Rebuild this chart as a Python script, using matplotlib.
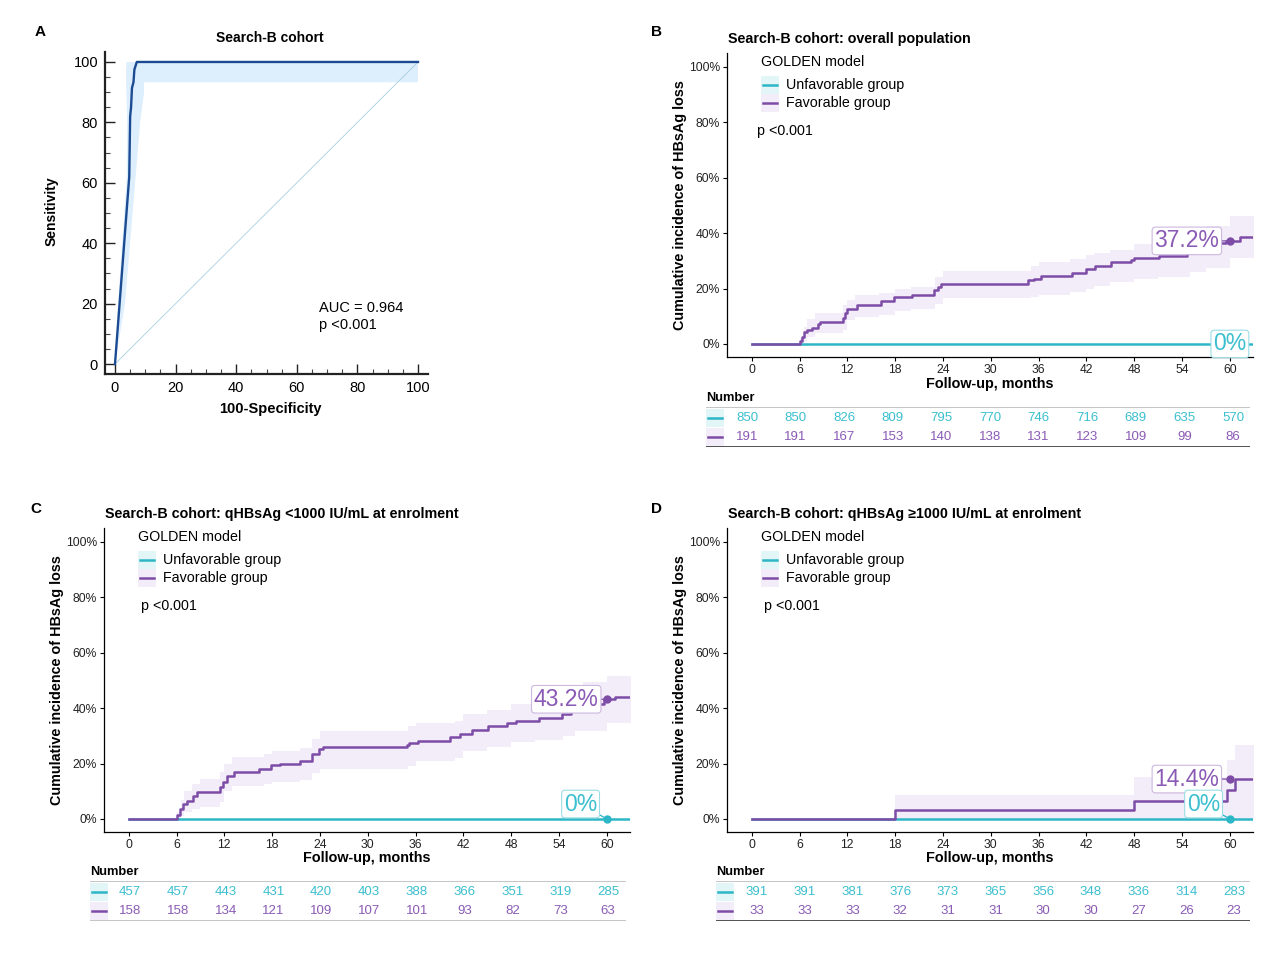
import matplotlib
matplotlib.use("Agg")
import matplotlib.pyplot as plt
from matplotlib.patches import Rectangle
from matplotlib.ticker import MultipleLocator

plt.rcParams['font.family'] = ['Liberation Sans', 'DejaVu Sans']

# ---------------- data ----------------
# Panel A: ROC
roc_fpr = [0, 4.7, 5.0, 5.3, 5.6, 6.1, 6.4, 7.2, 100]
roc_tpr = [0, 62, 82, 85, 91.4, 93.3, 97.5, 100, 100]
roc_ci_up_x = [0, 1.0, 3.9, 4.0, 3.6, 3.8, 100]
roc_ci_up_y = [0, 20, 62, 80, 97, 100, 100]
roc_ci_lo_x = [0, 3.3, 6.8, 8.3, 9.6, 9.6, 100]
roc_ci_lo_y = [0, 20, 62, 80, 90, 93.3, 93.3]
auc_text = "AUC = 0.964"
p_text = "p <0.001"

# KM panels (cumulative incidence, %)
time_ticks = [0, 6, 12, 18, 24, 30, 36, 42, 48, 54, 60]

fav_t_B = [0, 6.0, 6.3, 6.6, 7.0, 7.6, 8.3, 8.6, 11.4, 11.7, 12.0, 13.2, 16.2, 17.9, 20.1, 22.9, 23.4, 23.8,
           34.7, 35.4, 36.3, 40.2, 41.9, 43.1, 45.1, 47.6, 48.0, 51.1, 54.6, 55.6, 56.8, 58.0, 59.5, 61.3]
fav_v_B = [0, 1.0, 2.6, 4.2, 5.0, 5.8, 7.3, 8.1, 9.5, 11.0, 12.6, 14.2, 15.4, 17.0, 17.8, 19.6, 20.6, 21.8,
           23.0, 23.6, 24.5, 25.7, 26.9, 28.1, 29.6, 30.4, 31.1, 31.8, 33.0, 34.2, 35.3, 36.3, 37.2, 38.6]
band_t_B = [0, 6, 6.5, 7, 8, 11.5, 12, 13, 16, 18, 20, 23, 24, 35, 36, 40, 42, 43, 45, 48, 51, 55, 57, 60]
band_up_B = [0, 2, 6, 9, 11, 14, 16, 17.5, 18.5, 20, 20.5, 24, 26.5, 28, 29.5, 30.5, 32, 33, 34, 36, 37, 40,
             42.5, 46.3]
band_lo_B = [0, 0, 0.8, 2.5, 3.8, 5, 8.5, 9.8, 10.5, 12, 12.5, 14.5, 16.5, 17, 17.8, 18.8, 20, 21, 22.3, 23.5,
             24.2, 26, 27.5, 31]

fav_t_C = [0, 6.0, 6.4, 6.8, 7.3, 8.1, 8.6, 11.4, 11.8, 12.3, 13.2, 16.3, 17.9, 19.0, 21.5, 23.0, 23.9, 24.4,
           34.9, 35.2, 36.3, 40.3, 41.6, 43.1, 45.1, 47.5, 48.6, 51.5, 54.4, 55.5, 56.8, 58.0, 59.6, 61.0]
fav_v_C = [0, 1.5, 3.5, 5.4, 6.5, 8.4, 9.6, 11.5, 13.5, 15.5, 16.8, 18.0, 19.3, 20.0, 21.0, 23.5, 25.3, 25.8,
           26.8, 27.5, 28.3, 29.5, 30.7, 32.0, 33.5, 34.5, 35.5, 36.5, 37.8, 39.0, 40.3, 41.6, 43.2, 44.1]
band_t_C = [0, 6, 6.5, 7, 8, 9, 11.5, 12, 13, 17, 18, 21.5, 23, 24, 35, 36, 41, 42, 45, 48, 51, 54.5, 56, 57, 60]
band_up_C = [0, 2.5, 7, 10, 12.5, 14.4, 17, 20, 22.4, 23.5, 24.6, 25.5, 29, 31.8, 33.5, 34.8, 35.5, 37.8, 39.5,
             41.4, 43, 46, 48, 49.6, 51.6]
band_lo_C = [0, 0, 1, 2.4, 3.5, 4.2, 6, 10, 12, 12.8, 13.2, 14, 16.5, 18, 19, 21, 22, 24.6, 26, 27.6, 28.6, 30,
             31.8, 31.8, 34.8]

fav_t_D = [0, 18, 48, 59.6, 60.6]
fav_v_D = [0, 3.1, 6.6, 10.3, 14.4]
band_t_D = [0, 18, 48, 59.6, 60.6]
band_up_D = [0, 8.8, 15.2, 21.2, 26.7]
band_lo_D = [0, 0, 0, 0, 0]

unf_t = [0, 63]
unf_v = [0, 0]

final_B = [37.2, 0]
final_C = [43.2, 0]
final_D = [14.4, 0]

risk_unf_B = [850, 850, 826, 809, 795, 770, 746, 716, 689, 635, 570]
risk_fav_B = [191, 191, 167, 153, 140, 138, 131, 123, 109, 99, 86]
risk_unf_C = [457, 457, 443, 431, 420, 403, 388, 366, 351, 319, 285]
risk_fav_C = [158, 158, 134, 121, 109, 107, 101, 93, 82, 73, 63]
risk_unf_D = [391, 391, 381, 376, 373, 365, 356, 348, 336, 314, 283]
risk_fav_D = [33, 33, 33, 32, 31, 31, 30, 30, 27, 26, 23]

groups = ["Unfavorable group", "Favorable group"]

# ---------------- styling ----------------
W, H = 1269, 973
PURPLE = '#7D4CA6'
PURPLE_T = '#8A5AB5'
CYAN = '#2DB6C6'
CYAN_T = '#3BBFCE'
LAV = '#F2EDF8'
LCYAN = '#E2F5F7'
ROCBLUE = '#1B4C93'
ROCBAND = '#DDEEFC'
XEND = 63.0

fig = plt.figure(figsize=(W / 100, H / 100), dpi=100)


def box(l, t, r, b):
    return [l / W, 1 - b / H, (r - l) / W, (b - t) / H]


def T(x, y, s, **kw):
    kw.setdefault('va', 'center')
    return fig.text(x / W, 1 - y / H, s, **kw)


# ---------------- Panel A ----------------
axA = fig.add_axes(box(105, 52, 428, 374))
axA.set_xlim(-3.3, 103.3)
axA.set_ylim(-3.3, 103.3)
poly_x = roc_ci_up_x + roc_ci_lo_x[::-1]
poly_y = roc_ci_up_y + roc_ci_lo_y[::-1]
axA.fill(poly_x, poly_y, color=ROCBAND, lw=0, zorder=1)
axA.plot([0, 100], [0, 100], color='#A9CFE0', lw=0.6, zorder=2)
axA.plot(roc_fpr, roc_tpr, color=ROCBLUE, lw=1.7, zorder=3)
for s in ['top', 'right']:
    axA.spines[s].set_visible(False)
for s in ['left', 'bottom']:
    axA.spines[s].set_linewidth(1.6)
    axA.spines[s].set_color('#222222')
axA.set_xticks(range(0, 101, 20))
axA.set_yticks(range(0, 101, 20))
axA.xaxis.set_minor_locator(MultipleLocator(5))
axA.yaxis.set_minor_locator(MultipleLocator(5))
axA.tick_params(which='major', direction='in', length=7, width=1.0, labelsize=10.5, pad=5, color='#222222')
axA.tick_params(which='minor', direction='in', length=3.5, width=0.8, color='#444444')
axA.text(67.3, 18.5, auc_text, fontsize=10.5, va='center', ha='left')
axA.text(67.3, 12.8, p_text, fontsize=10.5, va='center', ha='left')
T(40, 32, "A", fontsize=11, fontweight='bold', ha='center')
T(270, 38, "Search-B cohort", fontsize=10, fontweight='bold', ha='center')
T(270, 409, "100-Specificity", fontsize=10.5, fontweight='bold', ha='center')
T(52, 211, "Sensitivity", fontsize=10, fontweight='bold', ha='center', rotation=90)


# ---------------- KM panels ----------------
def km_panel(rect, fav_t, fav_v, band_t, band_lo, band_up, finals, fav_lab_x, unf_lab, p_x):
    ax = fig.add_axes(rect)
    ax.set_xlim(-3.1, 62.9)
    ax.set_ylim(-0.047, 1.05)
    bt = band_t + [XEND]
    ax.fill_between(bt, [v / 100 for v in band_lo + [band_lo[-1]]],
                    [v / 100 for v in band_up + [band_up[-1]]],
                    step='post', color=LAV, lw=0, zorder=1)
    ax.step(unf_t, unf_v, where='post', color=CYAN, lw=1.8, zorder=3)
    ax.step(fav_t + [XEND], [v / 100 for v in fav_v + [fav_v[-1]]], where='post',
            color=PURPLE, lw=1.8, zorder=4)
    for s in ['top', 'right']:
        ax.spines[s].set_visible(False)
    for s in ['left', 'bottom']:
        ax.spines[s].set_linewidth(0.9)
    ax.set_xticks(time_ticks)
    ax.set_yticks([0, 0.2, 0.4, 0.6, 0.8, 1.0])
    ax.set_yticklabels(["0%", "20%", "40%", "60%", "80%", "100%"])
    ax.tick_params(direction='out', length=3, width=0.8, labelsize=8.7, pad=2, labelcolor='#222222')
    # legend
    ax.text(0.0646, 0.970, "GOLDEN model", transform=ax.transAxes, fontsize=10.3, va='center', ha='left')
    for i, (lab, c, bg) in enumerate(zip(groups, [CYAN, PURPLE], [LCYAN, LAV])):
        yc = 0.895 - i * 0.059
        ax.add_patch(Rectangle((0.064, yc - 0.029), 0.034, 0.058, transform=ax.transAxes,
                               color=bg, lw=0, zorder=5))
        ax.plot([0.068, 0.095], [yc, yc], transform=ax.transAxes, color=c, lw=1.8, zorder=6)
        ax.text(0.112, yc, lab, transform=ax.transAxes, fontsize=10.3, va='center', ha='left')
    ax.text(p_x, 0.743, p_text, transform=ax.transAxes, fontsize=10.3, va='center', ha='left')
    # end labels
    fv = finals[0] / 100
    ax.plot([60], [fv], 'o', color=PURPLE, ms=5, zorder=7)
    ax.annotate(f"{finals[0]:.1f}%", xy=(60, fv), xytext=(fav_lab_x, fv), textcoords='data',
                fontsize=16.5, color=PURPLE_T, ha='center', va='center', zorder=8,
                bbox=dict(boxstyle='round,pad=0.1,rounding_size=0.15', fc='white', ec='#CDB8E0', lw=0.8),
                arrowprops=dict(arrowstyle='-', color=PURPLE, lw=0.9, shrinkA=0, shrinkB=0))
    uv = finals[1] / 100
    ax.plot([60], [uv], 'o', color=CYAN, ms=5, zorder=7)
    ax.annotate(f"{finals[1]:.0f}%", xy=(60, uv), xytext=unf_lab, textcoords='data',
                fontsize=16.5, color=CYAN_T, ha='center', va='center', zorder=8,
                bbox=dict(boxstyle='round,pad=0.1,rounding_size=0.15', fc='white', ec='#9ADDE6', lw=0.8),
                arrowprops=dict(arrowstyle='-', color=CYAN, lw=0.9, shrinkA=0, shrinkB=0))
    return ax


def risk_table(rect, xlim, r_unf, r_fav, bottom_color):
    ax = fig.add_axes(rect)
    ax.set_xlim(*xlim)
    ax.set_ylim(0, 1)
    ax.axis('off')
    ax.axhline(1, color='#BBBBBB', lw=1.2)
    ax.axhline(0, color=bottom_color, lw=1.2)
    xr = (xlim[1] - xlim[0])
    kw = 18 / (rect[2] * W) * xr
    for yc, vals, c, tc, bg in [(0.725, r_unf, CYAN, CYAN_T, LCYAN), (0.25, r_fav, PURPLE, PURPLE_T, LAV)]:
        ax.add_patch(Rectangle((xlim[0], yc - 0.23), kw, 0.46, color=bg, lw=0))
        ax.plot([xlim[0] + kw * 0.1, xlim[0] + kw * 0.9], [yc, yc], color=c, lw=1.8)
        for t, v in zip(time_ticks, vals):
            ax.text(t, yc, str(v), color=tc, fontsize=9.5, ha='center', va='center')
    return ax


LBL = dict(fontsize=10.4, fontweight='bold', ha='center')

# Panel B
km_panel(box(727, 53, 1253, 357), fav_t_B, fav_v_B, band_t_B, band_lo_B, band_up_B,
         final_B, 54.6, (60, 0.0), 0.057)
risk_table(box(706, 407, 1250, 447), (-5.06, 62.1), risk_unf_B, risk_fav_B, '#333333')
T(656, 32, "B", fontsize=11, fontweight='bold', ha='center')
T(728, 39, "Search-B cohort: overall population", fontsize=10.3, fontweight='bold', ha='left')
T(680, 205, "Cumulative incidence of HBsAg loss", rotation=90, **LBL)
T(990, 384, "Follow-up, months", **LBL)
T(706, 398, "Number", fontsize=9.3, fontweight='bold', ha='left')

# Panel C
km_panel(box(104, 528, 630, 832), fav_t_C, fav_v_C, band_t_C, band_lo_C, band_up_C,
         final_C, 54.9, (56.7, 0.054), 0.070)
risk_table(box(90, 881, 626, 921), (-5.02, 62.26), risk_unf_C, risk_fav_C, '#BBBBBB')
T(36, 509, "C", fontsize=11, fontweight='bold', ha='center')
T(105, 514, "Search-B cohort: qHBsAg <1000 IU/mL at enrolment", fontsize=10.3, fontweight='bold', ha='left')
T(57, 680, "Cumulative incidence of HBsAg loss", rotation=90, **LBL)
T(367, 858, "Follow-up, months", **LBL)
T(90, 872, "Number", fontsize=9.3, fontweight='bold', ha='left')

# Panel D
km_panel(box(727, 528, 1253, 832), fav_t_D, fav_v_D, band_t_D, band_lo_D, band_up_D,
         final_D, 54.6, (56.7, 0.054), 0.070)
risk_table(box(716, 881, 1250, 921), (-5.16, 62.0), risk_unf_D, risk_fav_D, '#333333')
T(656, 509, "D", fontsize=11, fontweight='bold', ha='center')
T(728, 514, "Search-B cohort: qHBsAg \u22651000 IU/mL at enrolment", fontsize=10.3, fontweight='bold', ha='left')
T(680, 680, "Cumulative incidence of HBsAg loss", rotation=90, **LBL)
T(990, 858, "Follow-up, months", **LBL)
T(716, 872, "Number", fontsize=9.3, fontweight='bold', ha='left')

fig.savefig("out.png", dpi=100)
